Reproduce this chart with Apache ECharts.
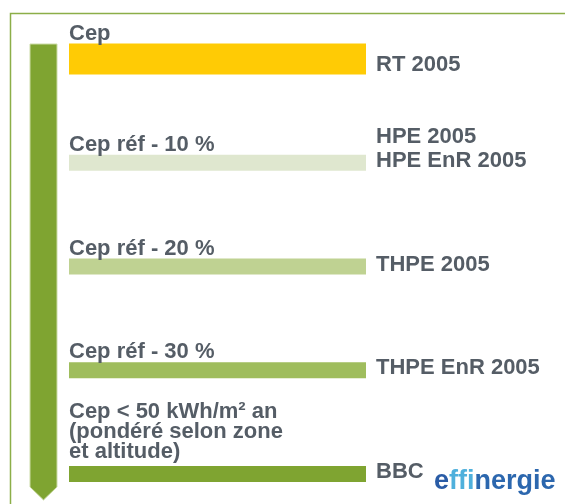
<!DOCTYPE html>
<html>
<head>
<meta charset="utf-8">
<script src="https://cdn.jsdelivr.net/npm/echarts@6/dist/echarts.min.js"></script>
<style>
  html, body { margin: 0; padding: 0; background: #ffffff; }
  #chart { width: 565px; height: 504px; }
</style>
</head>
<body>
<div id="chart"></div>
<script>
// niveaux de performance (texte au-dessus de chaque barre)
const levels = [
	'Cep',
	'Cep réf - 10 %',
	'Cep réf - 20 %',
	'Cep réf - 30 %',
	'Cep < 50 kWh/m² an\n(pondéré selon zone\net altitude)'
];
// labels à droite
const labels = ['RT 2005', 'HPE 2005\nHPE EnR 2005', 'THPE 2005', 'THPE EnR 2005', 'BBC'];
const values = [100, 100, 100, 100, 100];
const logoParts = ['e', 'ffi', 'nergie'];

// styles
const barColors = ['#ffcb05', '#dfe7cf', '#bfd292', '#9fbd5d', '#7fa431'];
const barHeights = [31, 16, 16, 16, 16];
const textColor = '#555d66';
const font = 'bold 22px "Liberation Sans", Arial, sans-serif';
const logoFont = 'bold 27px "Liberation Sans", Arial, sans-serif';

const chart = echarts.init(document.getElementById('chart'));

const option = {
	animation: false,
	grid: {
		left: 69,
		right: 199,
		top: 59,
		bottom: 30
	},
	xAxis: {
		type: 'value',
		min: 0,
		max: 100,
		show: false
	},
	yAxis: {
		type: 'category',
		data: levels,
		inverse: true,
		boundaryGap: false,
		show: false
	},
	graphic: [{
		// cadre
		type: 'polyline',
		shape: { points: [[10.5, 504], [10.5, 13.5], [565, 13.5]] },
		style: { stroke: '#8cae48', lineWidth: 1.5, fill: null },
		silent: true
	}, {
		// flèche verticale
		type: 'polygon',
		shape: { points: [[30, 44], [57, 44], [57, 487], [43.5, 500], [30, 487]] },
		style: { fill: '#7fa431', stroke: '#cddca8', lineWidth: 1 },
		silent: true
	}, {
		// logo effinergie
		type: 'text',
		left: 434,
		top: 468,
		style: {
			text: '{a|' + logoParts[0] + '}{b|' + logoParts[1] + '}{c|' + logoParts[2] + '}',
			rich: {
				a: { fill: '#2a5ca6', font: logoFont },
				b: { fill: '#4fb0dc', font: logoFont },
				c: { fill: '#2c67ae', font: logoFont }
			}
		},
		silent: true
	}],
	series: [{
		type: 'custom',
		clip: false,
		data: values.map((v, i) => [v, i]),
		encode: { x: 0, y: 1 },
		renderItem: function (params, api) {
			const i = params.dataIndex;
			const start = api.coord([0, api.value(1)]);
			const end = api.coord([api.value(0), api.value(1)]);
			const h = barHeights[i];
			const top = start[1] - h / 2;
			return {
				type: 'group',
				children: [{
					type: 'rect',
					shape: { x: start[0], y: top, width: end[0] - start[0], height: h },
					style: { fill: barColors[i] }
				}, {
					type: 'text',
					x: start[0],
					y: top - (i === 4 ? 4 : 0),
					style: {
						text: levels[i],
						fill: textColor,
						font: font,
						lineHeight: 20,
						align: 'left',
						verticalAlign: 'bottom'
					}
				}, {
					type: 'text',
					x: end[0] + 10,
					y: top + h + 2,
					style: {
						text: labels[i],
						fill: textColor,
						font: font,
						lineHeight: 24,
						align: 'left',
						verticalAlign: 'bottom'
					}
				}]
			};
		}
	}]
};

chart.setOption(option);
</script>
</body>
</html>
